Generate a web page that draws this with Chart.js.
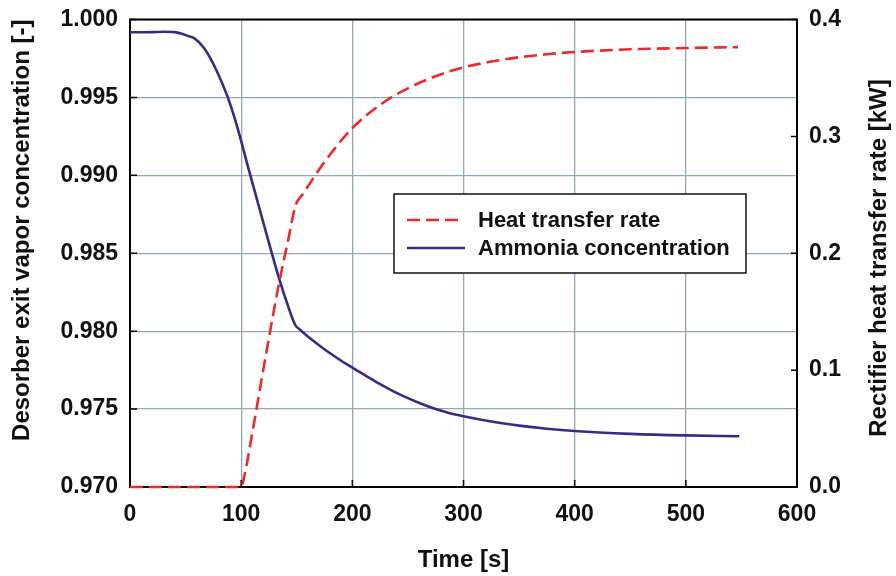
<!DOCTYPE html>
<html>
<head>
<meta charset="utf-8">
<script src="https://cdn.jsdelivr.net/npm/chart.js@4.4.1/dist/chart.umd.min.js"></script>
<style>
  html, body { margin: 0; padding: 0; background: #ffffff; }
  #wrap { position: relative; width: 896px; height: 576px; }
  canvas { display: block; }
</style>
</head>
<body>
<div id="wrap"><canvas id="c" width="896" height="576"></canvas></div>
<script>
// ---- Data ----
const xTickValues = [0, 100, 200, 300, 400, 500, 600];
const leftTickValues = [0.970, 0.975, 0.980, 0.985, 0.990, 0.995, 1.000];
const rightTickValues = [0.0, 0.1, 0.2, 0.3, 0.4];

// Ammonia concentration (left axis)
const ammoniaTime = [0, 10, 20, 30, 40, 45, 52, 58, 65.7, 72, 77.6, 83, 88, 94, 100, 105, 110, 115, 120, 127, 134, 142, 149, 152, 160, 170, 180, 190, 200, 212, 225, 237, 250, 262, 275, 287, 300, 325, 350, 375, 400, 450, 500, 548];
const ammoniaConc = [0.99918, 0.99918, 0.99919, 0.99921, 0.99919, 0.99911, 0.99895, 0.99879, 0.99825, 0.99755, 0.99676, 0.99590, 0.99500, 0.99370, 0.99220, 0.99085, 0.98955, 0.98825, 0.98695, 0.98515, 0.98340, 0.98165, 0.98035, 0.98015, 0.97965, 0.97910, 0.97858, 0.97810, 0.97766, 0.97715, 0.97660, 0.97614, 0.97570, 0.97534, 0.97500, 0.97475, 0.97454, 0.97420, 0.97394, 0.97374, 0.97359, 0.97341, 0.97331, 0.97326];

// Heat transfer rate (right axis, kW)
const heatTime = [0, 50, 100, 103, 110, 118, 126, 134, 142, 149, 155, 162, 170, 180, 190, 200, 212, 225, 237, 250, 262, 275, 287, 300, 325, 350, 375, 400, 450, 500, 547];
const heatRate = [0, 0, 0, 0.010, 0.046, 0.090, 0.133, 0.174, 0.210, 0.241, 0.250, 0.260, 0.2715, 0.2845, 0.2965, 0.3070, 0.3175, 0.3270, 0.3345, 0.3410, 0.3465, 0.3515, 0.3555, 0.3590, 0.3640, 0.3677, 0.3703, 0.3722, 0.3745, 0.3756, 0.3764];

const seriesNames = ['Heat transfer rate', 'Ammonia concentration'];
const xTitle = 'Time [s]';
const leftTitle = 'Desorber exit vapor concentration [-]';
const rightTitle = 'Rectifier heat transfer rate [kW]';

// ---- Styles ----
const FONT = "'Liberation Sans', Arial, Helvetica, sans-serif";
const RED = '#ea2b2b';
const BLUE = '#3b2a85';
const GRID = '#8fa9b9';

const toXY = (xs, ys) => xs.map((t, i) => ({ x: t, y: ys[i] }));

const innerTicks = {
  id: 'innerTicks',
  beforeDatasetsDraw(chart) {
    const { ctx, chartArea: { left, right, top, bottom }, scales } = chart;
    ctx.save();
    ctx.strokeStyle = '#000';
    ctx.lineWidth = 1.5;
    ctx.beginPath();
    leftTickValues.forEach(v => { const p = scales.y.getPixelForValue(v); ctx.moveTo(left, p); ctx.lineTo(left + 7, p); });
    rightTickValues.forEach(v => { const p = scales.y1.getPixelForValue(v); ctx.moveTo(right, p); ctx.lineTo(right - 6, p); });
    xTickValues.forEach(v => { const p = scales.x.getPixelForValue(v); ctx.moveTo(p, bottom); ctx.lineTo(p, bottom - 7); });
    ctx.stroke();
    ctx.lineWidth = 2;
    ctx.beginPath();
    ctx.moveTo(left - 1, top); ctx.lineTo(right + 1, top);
    ctx.stroke();
    ctx.restore();
  }
};

const extraText = {
  id: 'extraText',
  afterDraw(chart) {
    const { ctx } = chart;
    ctx.save();
    // right axis title, reading bottom-to-top
    ctx.translate(879, 258);
    ctx.rotate(-Math.PI / 2);
    ctx.fillStyle = '#111';
    ctx.font = 'bold 24px ' + FONT;
    ctx.textAlign = 'center';
    ctx.textBaseline = 'middle';
    ctx.fillText(rightTitle, 0, 0);
    ctx.restore();

    // legend box
    ctx.save();
    const bx = 394, by = 194, bw = 352, bh = 79;
    ctx.fillStyle = '#fff';
    ctx.fillRect(bx, by, bw, bh);
    ctx.strokeStyle = '#111';
    ctx.lineWidth = 1.5;
    ctx.strokeRect(bx, by, bw, bh);
    ctx.lineWidth = 2.5;
    ctx.strokeStyle = RED;
    ctx.setLineDash([13, 6]);
    ctx.beginPath(); ctx.moveTo(407, 220); ctx.lineTo(459, 220); ctx.stroke();
    ctx.setLineDash([]);
    ctx.strokeStyle = BLUE;
    ctx.beginPath(); ctx.moveTo(407, 248); ctx.lineTo(465, 248); ctx.stroke();
    ctx.fillStyle = '#111';
    ctx.font = 'bold 22px ' + FONT;
    ctx.textAlign = 'left';
    ctx.textBaseline = 'middle';
    ctx.fillText(seriesNames[0], 478, 221);
    ctx.fillText(seriesNames[1], 478, 249);
    ctx.restore();
  }
};

const tickFont = { family: FONT, weight: 'bold', size: 23 };
const titleFont = { family: FONT, weight: 'bold', size: 24 };

new Chart(document.getElementById('c'), {
  type: 'line',
  data: {
    datasets: [
      {
        label: seriesNames[0],
        data: toXY(heatTime, heatRate),
        yAxisID: 'y1',
        borderColor: RED,
        borderWidth: 2.6,
        borderDash: [13, 6],
        pointRadius: 0,
        cubicInterpolationMode: 'monotone',
        fill: false,
        clip: false
      },
      {
        label: seriesNames[1],
        data: toXY(ammoniaTime, ammoniaConc),
        yAxisID: 'y',
        borderColor: BLUE,
        borderWidth: 2.6,
        pointRadius: 0,
        cubicInterpolationMode: 'monotone',
        fill: false,
        clip: false
      }
    ]
  },
  options: {
    responsive: false,
    animation: false,
    devicePixelRatio: 1,
    layout: { padding: { top: 19.5, left: 0, right: 0, bottom: 0 } },
    plugins: { legend: { display: false }, tooltip: { enabled: false } },
    scales: {
      x: {
        type: 'linear',
        min: 0, max: 600,
        afterFit(s) { s.height = 89; s.paddingLeft = 0; s.paddingRight = 0; },
        afterBuildTicks(s) { s.ticks = xTickValues.map(v => ({ value: v })); },
        ticks: { padding: 14, color: '#111', font: tickFont, callback: v => String(v), maxRotation: 0 },
        grid: { color: GRID, lineWidth: 1.3, drawTicks: false },
        border: { display: true, color: '#000', width: 2 },
        title: { display: true, text: xTitle, color: '#111', font: titleFont, padding: { top: 0, bottom: 1 } }
      },
      y: {
        type: 'linear',
        position: 'left',
        min: 0.970, max: 1.000,
        afterFit(s) { s.width = 130; s.paddingTop = 0; s.paddingBottom = 0; },
        afterBuildTicks(s) { s.ticks = leftTickValues.map(v => ({ value: v })); },
        ticks: { padding: 12, color: '#111', font: tickFont, callback: v => Number(v).toFixed(3) },
        grid: { color: GRID, lineWidth: 1.3, drawTicks: false },
        border: { display: true, color: '#000', width: 2 },
        title: { display: true, text: leftTitle, align: 'end', color: '#111', font: titleFont, padding: { top: 8, bottom: 0 } }
      },
      y1: {
        type: 'linear',
        position: 'right',
        min: 0, max: 0.4,
        afterFit(s) { s.width = 99; s.paddingTop = 0; s.paddingBottom = 0; },
        afterBuildTicks(s) { s.ticks = rightTickValues.map(v => ({ value: v })); },
        ticks: { padding: 12, color: '#111', font: tickFont, callback: v => Number(v).toFixed(1) },
        grid: { drawOnChartArea: false, drawTicks: false },
        border: { display: true, color: '#000', width: 2 }
      }
    }
  },
  plugins: [innerTicks, extraText]
});
</script>
</body>
</html>
